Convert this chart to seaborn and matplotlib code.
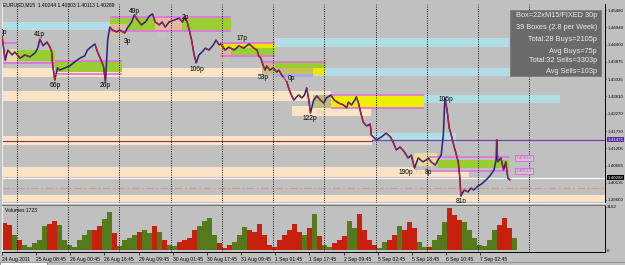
import numpy as np
import matplotlib
matplotlib.use("Agg")
import matplotlib.pyplot as plt
import matplotlib.transforms as mtrans
from matplotlib.patches import Rectangle
from matplotlib.collections import LineCollection
import seaborn as sns

# ---------------- data ----------------
title_text = "EURUSD,M15  1.40244 1.40303 1.40113 1.40289"

price_bar = [0,4,6,11,19,24,34,43,52,62,
             67,71,77,84,90,93,95,99,104,108,
             118,127,136,146,155,160,164,174,179,183,
             187,190,194,198,202,207,215,220,230,235,
             243,248,254,261,269,276,282,287,295,300,
             306,313,323,332,338,343,347,351,356,360,
             364,369,375,381,388,396,401,407,410,418,
             425,435,444,453,463,472,478,481,485,489,
             493,496,502,508,515,519,524,528,534,537,
             543,547,552,556,562,567,571,575,578,584,
             590,597,603,608,616,623,631,640,646,649,
             655,661,664,668,672,677,683,690,692,702,
             711,720,728,733,739,746,754,761,767,773,
             780,789,795,799,804,812,817,823,827,830,
             834,838,842,845,849,855,858,860,866,873,
             879,884,892,899,907,914,922,926,927,929,
             935,940,944,948,952]
price_val = [1.4468,1.4418,1.4393,1.4424,1.4409,1.4418,1.4399,1.4409,1.4403,1.4415,
             1.4430,1.4458,1.4437,1.4449,1.4433,1.4418,1.4378,1.4331,1.4369,1.4362,
             1.4369,1.4375,1.4387,1.4399,1.4406,1.4424,1.4430,1.4443,1.4418,1.4403,
             1.4387,1.4375,1.4325,1.4455,1.4495,1.4486,1.4480,1.4486,1.4477,1.4492,
             1.4511,1.4533,1.4517,1.4502,1.4511,1.4529,1.4536,1.4511,1.4502,1.4511,
             1.4495,1.4511,1.4517,1.4523,1.4511,1.4526,1.4511,1.4486,1.4449,1.4409,
             1.4384,1.4409,1.4418,1.4430,1.4424,1.4440,1.4455,1.4440,1.4443,1.4424,
             1.4433,1.4424,1.4437,1.4430,1.4443,1.4430,1.4424,1.4406,1.4399,1.4378,
             1.4362,1.4375,1.4362,1.4369,1.4356,1.4362,1.4347,1.4338,1.4325,1.4307,
             1.4282,1.4269,1.4279,1.4285,1.4276,1.4285,1.4307,1.4269,1.4229,1.4269,
             1.4282,1.4269,1.4260,1.4276,1.4285,1.4269,1.4260,1.4254,1.4245,1.4263,
             1.4254,1.4269,1.4279,1.4260,1.4232,1.4201,1.4189,1.4195,1.4161,1.4146,
             1.4155,1.4167,1.4155,1.4139,1.4115,1.4124,1.4109,1.4090,1.4099,1.4059,
             1.4090,1.4078,1.4084,1.4090,1.4078,1.4068,1.4084,1.4099,1.4161,1.4276,
             1.4239,1.4183,1.4161,1.4139,1.4115,1.4078,1.4028,1.3972,1.3991,1.3985,
             1.3997,1.3991,1.4003,1.4010,1.4022,1.4034,1.4053,1.4084,1.4146,1.4078,
             1.4090,1.4053,1.4078,1.4028,1.4022]

volume = [1985,1838,1103,735,368,221,515,735,1764,1911,
          2132,1838,735,368,221,735,1103,1470,1470,1764,
          2279,2793,1250,294,735,882,1103,1323,1470,1250,
          1764,1323,735,368,294,588,735,882,1470,1764,
          2132,2352,1103,515,147,368,588,1103,1691,1470,
          1323,1911,1103,368,221,735,1103,1470,1911,1323,
          1103,1617,2646,1029,368,221,515,735,1029,2132,
          1617,2646,1470,735,368,147,588,735,1103,1764,
          1470,2058,1617,588,221,221,735,1103,2058,3087,
          2573,2205,2058,1470,882,368,294,735,1470,1838,
          2352,1617,882]
volume_bars_per_sample = 9.37

time_labels = ["24 Aug 2011", "25 Aug 08:45", "26 Aug 00:45", "26 Aug 16:45",
               "29 Aug 09:45", "30 Aug 01:45", "30 Aug 17:45", "31 Aug 09:45",
               "1 Sep 01:45", "1 Sep 17:45", "2 Sep 09:45", "5 Sep 02:45",
               "5 Sep 18:45", "6 Sep 10:45", "7 Sep 02:45"]
bars_per_label = 64
day_start_bar = 28
bars_per_day = 96
n_days = 11
total_bars = 1130

price_ticks = [1.45480, 1.44940, 1.44400, 1.43875, 1.43335, 1.42810,
               1.42270, 1.41730, 1.41205, 1.40665, 1.40135, 1.39600]
price_range = (1.39507, 1.45666)

# zones: (bar_start, bar_end, price_top, price_bottom)
cyan_zones = [(0, 202, 1.45109, 1.44861), (511, 950, 1.44613, 1.44335),
              (582, 1118, 1.43685, 1.43437), (791, 1045, 1.42849, 1.42602),
              (694, 851, 1.41673, 1.41456)]
peach_zones = [(0, 488, 1.43685, 1.43406), (0, 617, 1.42973, 1.42664),
               (544, 692, 1.42509, 1.42199), (0, 694, 1.41580, 1.41302),
               (0, 772, 1.40621, 1.40311), (772, 875, 1.40528, 1.40311),
               (0, 1130, 1.39754, 1.39538)]
# boxes: (bar_start, bar_end, price_top, price_bottom, colour)
box_fills = [(28, 99, 1.44242, 1.43902, "#9acd32"), (9, 28, 1.44273, 1.43871, "#e4dca8"),
             (99, 224, 1.43902, 1.43561, "#9acd32"), (202, 430, 1.45232, 1.44861, "#9acd32"),
             (202, 234, 1.45047, 1.44706, "#e2b89c"), (286, 338, 1.45232, 1.44861, "#e8b89c"),
             (408, 512, 1.44459, 1.44304, "#e6e600"), (408, 512, 1.44304, 1.44087, "#9acd32"),
             (408, 430, 1.44304, 1.44056, "#dcb49c"), (488, 539, 1.43840, 1.43499, "#c8bc78"),
             (511, 608, 1.43871, 1.43685, "#9acd32"), (539, 582, 1.43685, 1.43499, "#c8c050"),
             (582, 608, 1.43685, 1.43468, "#e8e800"), (511, 582, 1.43499, 1.43406, "#a8a8f0"),
             (582, 617, 1.42849, 1.42447, "#bcbc80"), (617, 791, 1.42849, 1.42447, "#eeee00"),
             (772, 815, 1.41054, 1.40652, "#e4dca0"), (815, 950, 1.40837, 1.40590, "#9acd32")]
box_edges = [(0, 28, 1.44459), (0, 99, 1.43840), (99, 224, 1.43902), (99, 224, 1.43499),
             (202, 430, 1.45263), (202, 430, 1.44830), (408, 512, 1.44459), (408, 512, 1.44056),
             (488, 608, 1.43871), (617, 791, 1.42849), (617, 791, 1.42447),
             (800, 950, 1.40930), (800, 950, 1.40497)]
level_old = (0, 694, 1.41430)
level_line = (694, 1130, 1.41471)
bid_price = 1.40288
dashdot_price = 1.39971

peak_labels = [("0p", 3, 1.4477), ("41p", 71, 1.44737), ("66p", 99, 1.43159),
               ("26p", 194, 1.43159), ("3p", 236, 1.4449), ("49p", 249, 1.4542),
               ("2p", 344, 1.45263), ("106p", 365, 1.43654), ("17p", 449, 1.44613),
               ("53p", 490, 1.43406), ("0p", 542, 1.43375), ("122p", 576, 1.42107),
               ("106p", 832, 1.42695), ("190p", 757, 1.40466), ("8p", 799, 1.40466),
               ("81p", 860, 1.39538)]
faded_labels = [("38p", 19, 1.43716), ("30p", 108, 1.43437), ("36p", 212, 1.4449),
                ("30p", 300, 1.44706), ("30p", 419, 1.43932), ("30p", 527, 1.43314),
                ("30p", 598, 1.42323), ("30p", 782, 1.40466)]
pink_labels = [("1.40912", 963, 1.40899), ("1.40512", 963, 1.40497)]

info_lines = ["Box=22xM15/FIXED 30p", "39 Boxes (2.8 per Week)", "Total:28 Buys=2105p",
              "Avg Buys=75p", "Total:32 Sells=3303p", "Avg Sells=103p"]
volume_title = "Volumes 1723"
volume_max_label = 3162

# ---------------- style ----------------
sns.set_theme(style="white")
plt.rcParams["font.family"] = ["Liberation Sans", "DejaVu Sans"]
BG = "#c0c0c0"

fig = plt.figure(figsize=(6.25, 2.65), dpi=100, facecolor=BG)
W, H = 625, 265
ax = fig.add_axes([2 / W, 62 / H, 603 / W, 199 / H], facecolor=BG)
axv = fig.add_axes([2 / W, 13 / H, 603 / W, 47 / H], facecolor=BG)

for a in (ax, axv):
    a.set_xlim(0, total_bars)
    for s in a.spines.values():
        s.set_linewidth(0.7)
ax.set_ylim(*price_range)
axv.set_ylim(-147, 3309)

# zones
for b0, b1, pt, pb in cyan_zones:
    ax.add_patch(Rectangle((b0, pb), b1 - b0, pt - pb, facecolor="#b0dde6", edgecolor="none", zorder=1))
for b0, b1, pt, pb in peach_zones:
    ax.add_patch(Rectangle((b0, pb), b1 - b0, pt - pb, facecolor="#fbe4c6", edgecolor="none", zorder=1))
for b0, b1, pt, pb, c in box_fills:
    ax.add_patch(Rectangle((b0, pb), b1 - b0, pt - pb, facecolor=c, edgecolor="none", zorder=1.5))
for b0, b1, p in box_edges:
    ax.plot([b0, b1], [p, p], color="#e070e0", lw=1.2, zorder=2, solid_capstyle="butt")
ax.plot([level_old[0], level_old[1]], [level_old[2]] * 2, color="#8a3050", lw=0.8, zorder=2)
ax.plot([level_line[0], level_line[1]], [level_line[2]] * 2, color="#7048a8", lw=0.9, zorder=2)
ax.axhline(bid_price, color="white", lw=0.8, zorder=2)
ax.axhline(dashdot_price, color="#d09a88", lw=0.9, dashes=(6, 2, 1.5, 2), zorder=2)

# day separators
for k in range(n_days):
    for a in (ax, axv):
        a.axvline(day_start_bar + k * bars_per_day, color="black", lw=0.6, ls=(0, (1.2, 1.6)), zorder=2.5)

# price line
t = np.array(price_bar, dtype=float)
p = np.array(price_val)
sns.lineplot(x=t, y=p, ax=ax, color="#26237a", lw=1.1, sort=False, estimator=None, zorder=3)
segs = np.stack([np.column_stack([t[:-1], p[:-1]]), np.column_stack([t[1:], p[1:]])], axis=1)
down = p[1:] < p[:-1]
ax.add_collection(LineCollection(segs[down], colors="#b42038", linewidths=0.9, zorder=3.1))

# labels
for txt, b, pr in faded_labels:
    ax.text(b, pr, txt, fontsize=4.6, color="#d8cc9c", ha="center", va="center", zorder=3.5, clip_on=True)
for txt, b, pr in peak_labels:
    ax.text(b, pr, txt, fontsize=4.8, color="black", ha="center", va="center", zorder=4, clip_on=True)
for txt, b, pr in pink_labels:
    ax.text(b, pr, txt, fontsize=3.2, color="#e040e0", ha="left", va="center", zorder=4,
            bbox=dict(facecolor="#d4c4d4", edgecolor="#e060e0", lw=0.6, pad=0.8))

# info box
ax.add_patch(Rectangle((0.8425, 0.638), 0.151, 0.332, transform=ax.transAxes,
                       facecolor="#6a6a6a", edgecolor="#7a7a7a", lw=0.5, zorder=5))
info_y = [0.9447, 0.8794, 0.8241, 0.7638, 0.7136, 0.6633]
for txt, yy in zip(info_lines, info_y):
    ax.text(0.9867, yy, txt, transform=ax.transAxes, fontsize=5.3, color="#ececec",
            ha="right", va="center", zorder=6)

# axes styling - price
ax.set_xticks([])
ax.yaxis.tick_right()
ax.set_yticks(price_ticks)
ax.set_yticklabels([f"{v:.5f}" for v in price_ticks])
ax.tick_params(axis="y", labelsize=3.2, length=1, width=0.5, pad=0.6, colors="black", right=True)
ax.spines["right"].set_color("black")
ax.spines["top"].set_visible(False)
ax.spines["left"].set_color("#f0f0f0")
ax.spines["bottom"].set_color("#f4f4f4")
ax.set_xlabel("")
ax.set_ylabel("")

blend = mtrans.blended_transform_factory(ax.transAxes, ax.transData)
ax.text(1.004, level_line[2], f"{level_line[2]:.5f}", transform=blend, fontsize=3.2, color="white",
        ha="left", va="center", zorder=7, bbox=dict(facecolor="#5a2d9c", edgecolor="none", pad=0.5))
ax.text(1.004, bid_price, f"{bid_price:.5f}", transform=blend, fontsize=3.2, color="white",
        ha="left", va="center", zorder=7, bbox=dict(facecolor="black", edgecolor="none", pad=0.5))

# volume
vt = np.arange(len(volume)) * volume_bars_per_sample
pa = np.interp(vt, t, p)
pb_ = np.interp(vt + volume_bars_per_sample, t, p)
vcol = ["#557a1c" if b2 >= a2 else "#c8200e" for a2, b2 in zip(pa, pb_)]
axv.bar(vt, volume, width=volume_bars_per_sample, align="edge", color=vcol, edgecolor="none", zorder=1.5)
axv.text(0.005, 0.93, volume_title, transform=axv.transAxes, fontsize=3.6, color="black",
         ha="left", va="top", zorder=4)
axv.yaxis.tick_right()
axv.set_yticks([0, volume_max_label])
axv.set_yticklabels(["0", str(volume_max_label)])
axv.tick_params(axis="y", labelsize=3.2, length=1, width=0.5, pad=0.6, colors="black", right=True)
axv.set_xticks([i * bars_per_label for i in range(len(time_labels))])
axv.set_xticklabels(time_labels, ha="left")
axv.tick_params(axis="x", labelsize=3.6, length=2, width=0.5, pad=1.5, colors="black", bottom=True)
axv.spines["right"].set_color("black")
axv.spines["bottom"].set_color("black")
axv.spines["top"].set_color("#707070")
axv.spines["left"].set_color("#f0f0f0")
axv.set_xlabel("")
axv.set_ylabel("")

# title
fig.text(3 / W, 1 - 5 / H, title_text, fontsize=3.6, color="black", ha="left", va="center")

# bottom tab strip
fig.add_artist(Rectangle((0, 0), 47 / W, 3 / H, transform=fig.transFigure, facecolor="white",
                         edgecolor="#808080", lw=0.5))
fig.add_artist(plt.Line2D([47 / W, 1], [3 / H, 3 / H], transform=fig.transFigure, color="#808080", lw=0.5))

fig.savefig("out.png", dpi=100, facecolor=BG)
